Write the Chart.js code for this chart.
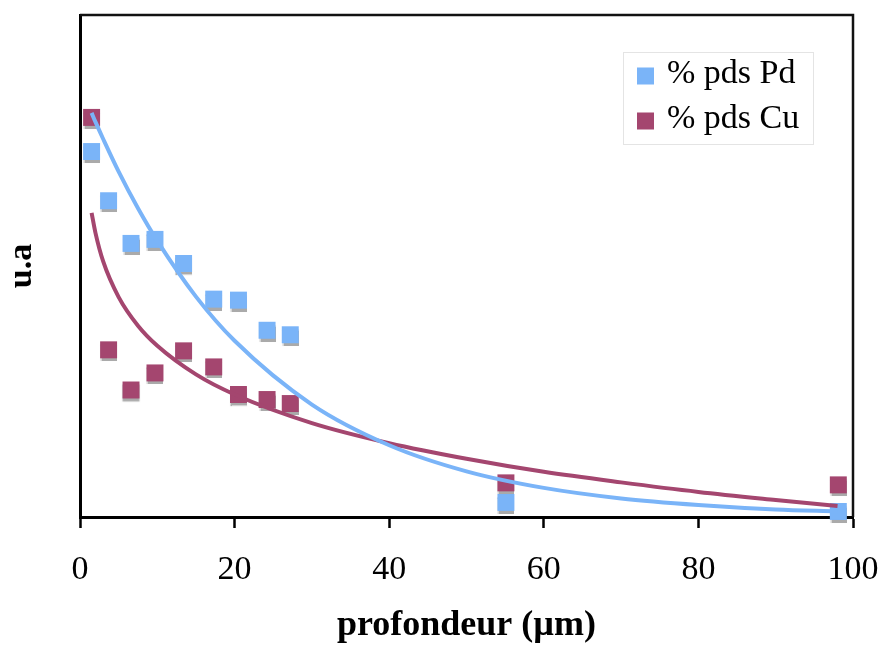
<!DOCTYPE html>
<html>
<head>
<meta charset="utf-8">
<script src="https://cdn.jsdelivr.net/npm/chart.js@4"></script>
<style>
  html, body { margin: 0; padding: 0; background: #fff; }
  #wrap { width: 882px; height: 646px; }
</style>
</head>
<body>
<div id="wrap"><canvas id="c" width="882" height="646"></canvas></div>
<script>
// ---- data ----
const depth = [1.5, 3.7, 6.6, 9.7, 13.4, 17.3, 20.5, 24.2, 27.2, 55.1, 98.1];
const pdValues = [72.8, 63.0, 54.5, 55.3, 50.5, 43.4, 43.2, 37.2, 36.3, 2.9, 1.1];
const cuValues = [79.6, 33.3, 25.3, 28.7, 33.1, 29.9, 24.4, 23.4, 22.6, 6.8, 6.4];
// trend curves
const trendX = [1.5, 2, 3, 5, 7.5, 10, 15, 20, 30, 40, 50, 60, 70, 80, 90, 98];
const pdTrend = [80.5, 78.7, 75.3, 68.8, 61.5, 55.0, 43.9, 35.1, 22.4, 14.3, 9.1, 5.8, 3.7, 2.4, 1.5, 1.1];
const cuTrend = [60.6, 56.6, 50.9, 43.8, 38.1, 34.1, 28.4, 24.4, 18.7, 14.7, 11.6, 9.0, 6.9, 5.0, 3.4, 2.2];
const xTicks = [0, 20, 40, 60, 80, 100];
const seriesNames = ['% pds Pd', '% pds Cu'];
const xTitle = 'profondeur (µm)';
const yTitle = 'u.a';

const BLUE = '#7ab4f8';
const PURPLE = '#a4466f';
const SERIF = '"Liberation Serif", "Times New Roman", serif';

const pts = (xs, ys) => xs.map((x, i) => ({ x: x, y: ys[i] }));

const shadowPlugin = {
  id: 'shadow',
  beforeDatasetDraw(chart, args) {
    const ds = chart.data.datasets[args.index];
    if (ds.isPoints) {
      const ctx = chart.ctx;
      ctx.save();
      ctx.shadowColor = 'rgba(100,100,100,0.55)';
      ctx.shadowOffsetX = 0;
      ctx.shadowOffsetY = 3;
      ctx.shadowBlur = 1;
    }
  },
  afterDatasetDraw(chart, args) {
    const ds = chart.data.datasets[args.index];
    if (ds.isPoints) chart.ctx.restore();
  }
};

const framePlugin = {
  id: 'frame',
  beforeDatasetsDraw(chart) {
    const { ctx, chartArea: a } = chart;
    ctx.save();
    ctx.strokeStyle = '#111';
    ctx.lineWidth = 2.5;
    ctx.beginPath();
    ctx.moveTo(a.left, a.top);
    ctx.lineTo(a.right, a.top);
    ctx.lineTo(a.right, a.bottom);
    ctx.stroke();
    ctx.restore();
  }
};

const legendPlugin = {
  id: 'customLegend',
  afterDraw(chart) {
    const ctx = chart.ctx;
    ctx.save();
    ctx.fillStyle = '#fff';
    ctx.fillRect(623, 52, 190, 92);
    ctx.strokeStyle = '#e4e4e4';
    ctx.lineWidth = 1;
    ctx.strokeRect(623.5, 52.5, 190, 92);
    const items = chart.data.datasets.filter(d => d.isPoints);
    const rows = [76, 121];
    items.forEach((d, i) => {
      ctx.fillStyle = d.backgroundColor;
      ctx.fillRect(637, rows[i] - 8.5, 17, 17);
      ctx.fillStyle = '#000';
      ctx.font = '34px ' + SERIF;
      ctx.textBaseline = 'alphabetic';
      ctx.textAlign = 'left';
      ctx.fillText(d.label, 667, rows[i] + 7);
    });
    ctx.restore();
  }
};

new Chart(document.getElementById('c'), {
  type: 'scatter',
  data: {
    datasets: [
      { label: 'trendPd', data: pts(trendX, pdTrend), showLine: true, borderColor: BLUE, borderWidth: 4,
        pointRadius: 0, cubicInterpolationMode: 'monotone', order: 0, clip: false },
      { label: 'trendCu', data: pts(trendX, cuTrend), showLine: true, borderColor: PURPLE, borderWidth: 4,
        pointRadius: 0, cubicInterpolationMode: 'monotone', order: 0, clip: false },
      { label: seriesNames[0], isPoints: true, data: pts(depth, pdValues), pointStyle: 'rect', pointRadius: 12,
        backgroundColor: BLUE, borderColor: BLUE, borderWidth: 0, order: 2, clip: false },
      { label: seriesNames[1], isPoints: true, data: pts(depth, cuValues), pointStyle: 'rect', pointRadius: 12,
        backgroundColor: PURPLE, borderColor: PURPLE, borderWidth: 0, order: 1, clip: false }
    ]
  },
  options: {
    responsive: false,
    animation: false,
    devicePixelRatio: 1,
    layout: { padding: { top: 15, right: 29, left: 0, bottom: 0 } },
    plugins: { legend: { display: false }, tooltip: { enabled: false } },
    elements: { line: { fill: false } },
    scales: {
      x: {
        type: 'linear', min: 0, max: 100,
        afterBuildTicks(s) { s.ticks = xTicks.map(v => ({ value: v })); },
        afterFit(s) { s.height = 129; s.paddingLeft = 0; s.paddingRight = 0; },
        border: { display: true, color: '#000', width: 3 },
        grid: { display: true, drawOnChartArea: false, drawTicks: true, tickLength: 11, tickColor: '#000', tickWidth: 2.5 },
        ticks: { color: '#000', font: { family: SERIF, size: 34 }, padding: 22, maxRotation: 0, autoSkip: false },
        title: { display: true, text: xTitle, color: '#000', font: { family: SERIF, size: 36, weight: 'bold', lineHeight: 1.1 }, padding: { top: 0, bottom: 0 } }
      },
      y: {
        type: 'linear', min: 0, max: 100,
        afterFit(s) { s.width = 80; s.paddingTop = 0; s.paddingBottom = 0; },
        border: { display: true, color: '#000', width: 3 },
        grid: { display: false },
        ticks: { display: false },
        title: { display: true, text: yTitle, color: '#000', font: { family: SERIF, size: 34, weight: 'bold' }, padding: { top: 2, bottom: 0 } }
      }
    }
  },
  plugins: [shadowPlugin, framePlugin, legendPlugin]
});
</script>
</body>
</html>
